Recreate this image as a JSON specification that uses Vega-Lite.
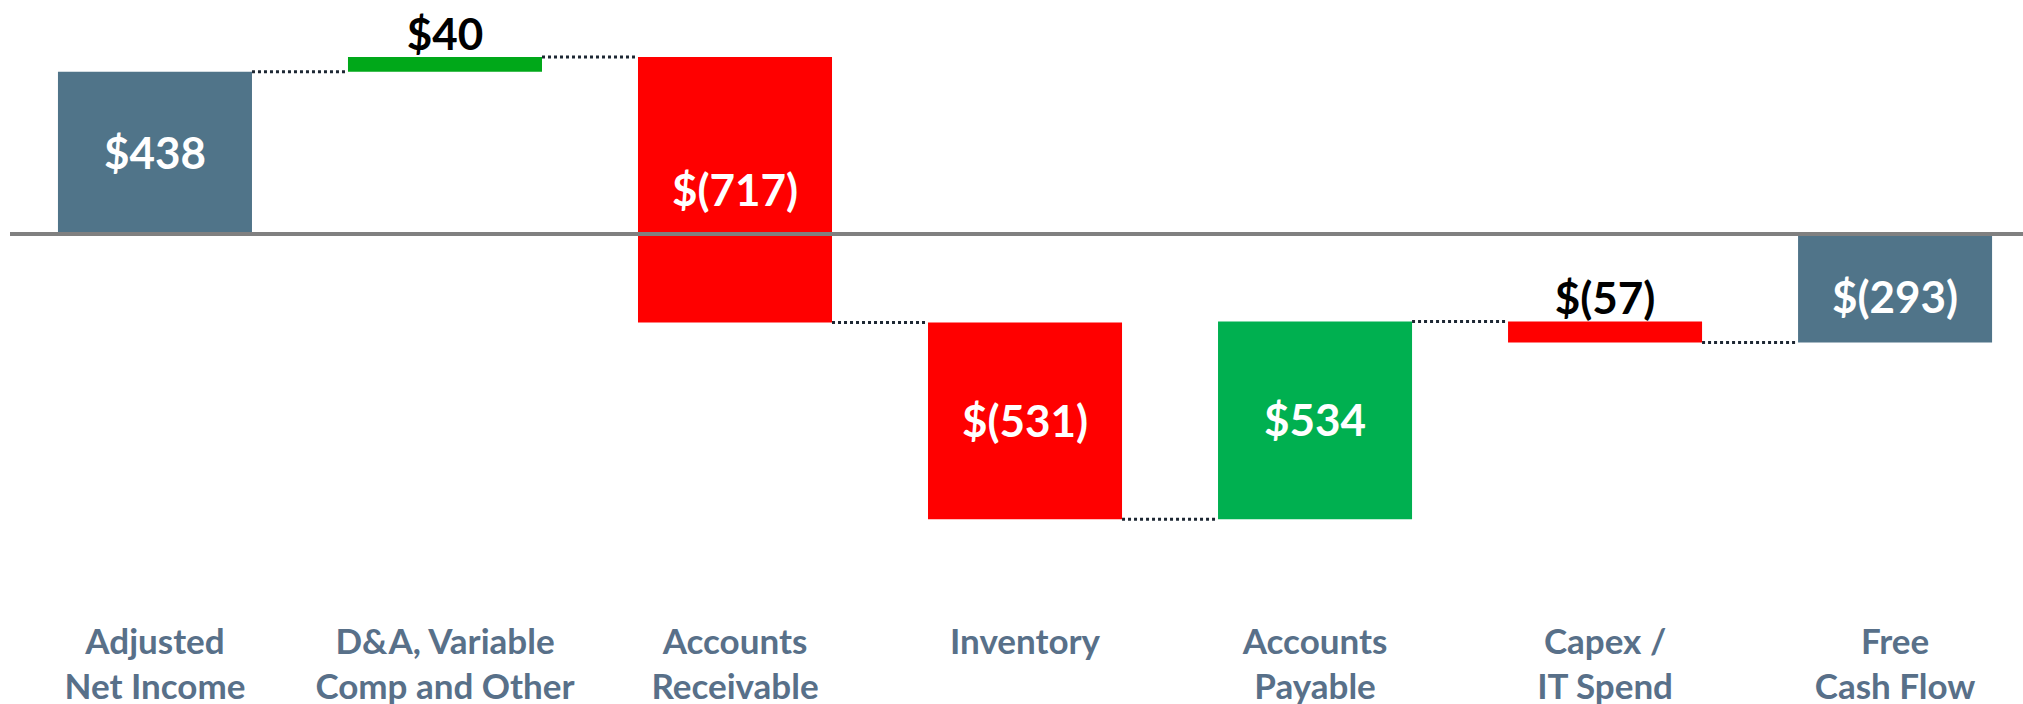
{
  "$schema": "https://vega.github.io/schema/vega-lite/v6.json",
  "width": 2013,
  "height": 600,
  "autosize": "none",
  "padding": {"left": 10, "top": 0, "right": 0, "bottom": 104},
  "background": "white",
  "config": {"view": {"stroke": null}, "font": "Lato"},
  "data": {
    "values": [
      {"cat": "Adjusted\nNet Income", "start": 0, "end": 438, "amount": 438, "label": "$438", "next": "D&A, Variable\nComp and Other"},
      {"cat": "D&A, Variable\nComp and Other", "start": 438, "end": 478, "amount": 40, "label": "$40", "next": "Accounts\nReceivable"},
      {"cat": "Accounts\nReceivable", "start": 478, "end": -239, "amount": -717, "label": "$(717)", "next": "Inventory"},
      {"cat": "Inventory", "start": -239, "end": -770, "amount": -531, "label": "$(531)", "next": "Accounts\nPayable"},
      {"cat": "Accounts\nPayable", "start": -770, "end": -236, "amount": 534, "label": "$534", "next": "Capex /\nIT Spend"},
      {"cat": "Capex /\nIT Spend", "start": -236, "end": -293, "amount": -57, "label": "$(57)", "next": "Free\nCash Flow"},
      {"cat": "Free\nCash Flow", "start": 0, "end": -293, "amount": -293, "label": "$(293)", "next": null}
    ]
  },
  "transform": [
    {"calculate": "(datum.start + datum.end) / 2", "as": "mid"},
    {"calculate": "max(datum.start, datum.end)", "as": "top"}
  ],
  "encoding": {
    "x": {
      "field": "cat",
      "type": "nominal",
      "sort": null,
      "scale": {"paddingInner": 0.331, "paddingOuter": 0.136, "align": 0.608},
      "axis": {
        "title": null,
        "domain": false,
        "ticks": false,
        "labelAngle": 0,
        "labelExpr": "split(datum.label, '\\n')",
        "labelFont": "Lato",
        "labelFontSize": 35,
        "labelFontWeight": "bold",
        "labelColor": "#587089",
        "labelLineHeight": 45,
        "labelPadding": 25,
        "labelBaseline": "top",
        "labelLimit": 600,
        "labelOverlap": false
      }
    }
  },
  "layer": [
    {
      "transform": [{"filter": "datum.next != null"}],
      "mark": {"type": "rule", "color": "#1d2733", "strokeWidth": 3, "strokeDash": [3, 3]},
      "encoding": {
        "x": {"field": "cat", "type": "nominal", "sort": null, "bandPosition": 1},
        "x2": {"field": "next", "bandPosition": 0},
        "y": {"field": "end", "type": "quantitative", "scale": {"domain": [-988, 632], "nice": false, "zero": false}, "axis": null}
      }
    },
    {
      "mark": {"type": "bar"},
      "encoding": {
        "y": {"field": "start", "type": "quantitative", "scale": {"domain": [-988, 632], "nice": false, "zero": false}, "axis": null},
        "y2": {"field": "end"},
        "color": {
          "field": "cat",
          "type": "nominal",
          "legend": null,
          "scale": {
            "domain": ["Adjusted\nNet Income", "D&A, Variable\nComp and Other", "Accounts\nReceivable", "Inventory", "Accounts\nPayable", "Capex /\nIT Spend", "Free\nCash Flow"],
            "range": ["#507489", "#00A819", "#FF0000", "#FF0000", "#00B050", "#FF0000", "#507489"]
          }
        }
      }
    },
    {
      "mark": {"type": "rule", "color": "#808080", "strokeWidth": 3.5},
      "encoding": {"x": null, "y": {"datum": 0, "type": "quantitative"}}
    },
    {
      "transform": [{"filter": "abs(datum.amount) >= 100 && datum.next != null"}],
      "mark": {"type": "text", "color": "white", "fontSize": 44, "fontWeight": "bold", "font": "Lato", "baseline": "middle", "align": "center", "dy": 3},
      "encoding": {
        "y": {"field": "mid", "type": "quantitative"},
        "text": {"field": "label"}
      }
    },
    {
      "transform": [{"filter": "datum.next == null"}],
      "mark": {"type": "text", "color": "white", "fontSize": 44, "fontWeight": "bold", "font": "Lato", "baseline": "middle", "align": "center", "dy": 12},
      "encoding": {
        "y": {"field": "mid", "type": "quantitative"},
        "text": {"field": "label"}
      }
    },
    {
      "transform": [{"filter": "abs(datum.amount) < 100"}],
      "mark": {"type": "text", "color": "black", "fontSize": 44, "fontWeight": "bold", "font": "Lato", "baseline": "alphabetic", "align": "center", "dy": -7},
      "encoding": {
        "y": {"field": "top", "type": "quantitative"},
        "text": {"field": "label"}
      }
    }
  ]
}
